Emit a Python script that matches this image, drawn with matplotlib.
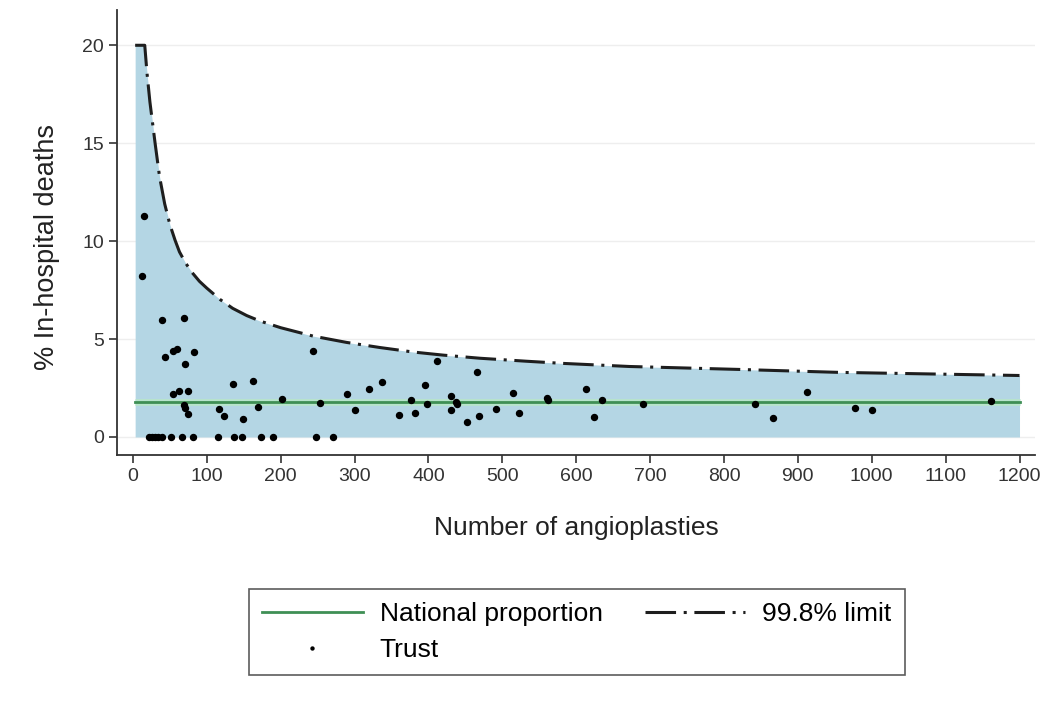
import matplotlib.pyplot as plt
import numpy as np

plt.rcParams['font.family'] = ['Liberation Sans', 'DejaVu Sans']

# trust volumes and in-hospital death rates (%)
trust_n = [15, 12, 40, 69, 44, 54, 60, 83, 70, 54, 62, 74, 69, 71, 74,
           136, 163, 116, 123, 149, 169, 202, 244, 253, 290, 300, 320, 337,
           360, 377, 382, 395, 398, 411, 430, 430, 437, 439, 452, 466, 468,
           492, 515, 523, 561, 562, 613, 624, 635, 691, 842, 867, 913, 978,
           1001, 1162,
           22, 26, 30, 34, 39, 51, 66, 81, 115, 137, 148, 173, 190, 248, 271]
trust_pct = [11.3, 8.2, 5.95, 6.1, 4.1, 4.4, 4.5, 4.35, 3.75, 2.2, 2.35, 2.35,
             1.65, 1.5, 1.15, 2.7, 2.85, 1.45, 1.07, 0.9, 1.55, 1.95, 4.4,
             1.72, 2.17, 1.37, 2.43, 2.8, 1.13, 1.9, 1.2, 2.68, 1.67, 3.9,
             2.1, 1.38, 1.8, 1.69, 0.77, 3.3, 1.06, 1.43, 2.25, 1.24, 1.97,
             1.9, 2.47, 1.0, 1.9, 1.67, 1.7, 0.95, 2.32, 1.5, 1.37, 1.84,
             0, 0, 0, 0, 0, 0, 0, 0, 0, 0, 0, 0, 0, 0, 0]

national_pct = 1.78

# upper 99.8% control limit, capped at 20%
limit_n = [3, 16, 19, 23, 30, 36, 43, 50, 57, 63, 71, 80, 90, 100, 118, 135,
           154, 172, 200, 244, 289, 334, 379, 420, 470, 532, 581, 672, 820,
           955, 1200]
limit_pct = [20, 20, 18.6, 17.1, 15.0, 13.3, 11.9, 10.85, 10.05, 9.45, 8.9,
             8.4, 7.95, 7.6, 7.02, 6.57, 6.2, 5.92, 5.58, 5.15, 4.83, 4.57,
             4.34, 4.18, 4.02, 3.87, 3.76, 3.6, 3.45, 3.3, 3.14]

fig = plt.figure(figsize=(10.51, 7.06), dpi=100)
ax = fig.add_axes([0.1113, 0.3555, 0.8735, 0.6303])

ax.fill_between(limit_n, 0, limit_pct, color='#b4d6e4', linewidth=0, zorder=1)
for yv in [0, 5, 10, 15, 20]:
    ax.axhline(yv, color='#eeeeee', linewidth=1, zorder=0.5)

ax.plot([limit_n[0], limit_n[-1]], [national_pct, national_pct],
        color='#b8e4cc', linewidth=5, zorder=2, solid_capstyle='butt')
nat_line, = ax.plot([limit_n[0], limit_n[-1]], [national_pct, national_pct],
                    color='#3f8f55', linewidth=2, zorder=3,
                    label='National proportion')
lim_line, = ax.plot(limit_n, limit_pct, color='#1e1e1e', linewidth=2.2,
                    linestyle=(0, (10, 2.5, 1, 2.5)), zorder=4,
                    label='99.8% limit')
pts, = ax.plot(trust_n, trust_pct, linestyle='none', marker='o',
               markersize=4.3, color='black', zorder=5, label='Trust')

ax.set_xlim(-21.6, 1221)
ax.set_ylim(-0.92, 21.8)
ax.set_xticks(np.arange(0, 1201, 100))
ax.set_yticks([0, 5, 10, 15, 20])
ax.tick_params(axis='both', direction='out', length=6, width=1.2,
               labelsize=14, color='#333333', labelcolor='#333333')
for side in ['top', 'right']:
    ax.spines[side].set_visible(False)
for side in ['left', 'bottom']:
    ax.spines[side].set_linewidth(1.3)
    ax.spines[side].set_color('#333333')

ax.set_xlabel('Number of angioplasties', fontsize=19, color='#222222',
              labelpad=22)
ax.set_ylabel('% In-hospital deaths', fontsize=19.5, color='#222222')
ax.yaxis.set_label_coords(-0.062, 0.467)

# row-wise order: national, limit / trust
leg = fig.legend(handles=[nat_line, pts, lim_line], loc='center',
                 bbox_to_anchor=(0.549, 0.105), ncol=2, fontsize=19,
                 frameon=True, fancybox=False, edgecolor='#333333',
                 handlelength=3.8, handletextpad=0.65, columnspacing=1.6,
                 borderpad=0.5, labelspacing=0.45, markerscale=0.5,
                 borderaxespad=0)
leg.get_frame().set_linewidth(1.2)

fig.savefig('out.png', dpi=100)
